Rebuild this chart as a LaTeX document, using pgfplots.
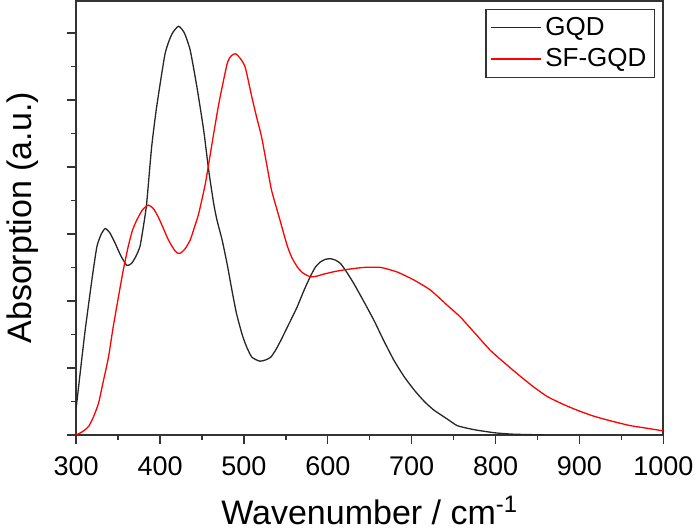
\documentclass[border=0pt]{standalone}
\usepackage{pgfplots}
\pgfplotsset{compat=1.18}
\usepackage{fontspec}
\setmainfont{Liberation Sans}
\begin{document}
\begin{tikzpicture}
\begin{axis}[
  scale only axis,
  width=293.5pt, height=217pt,
  xmin=300, xmax=1000, ymin=0, ymax=6.48,
  xtick={300,400,...,1000},
  minor x tick num=1,
  ytick={0,1,...,6},
  minor y tick num=1,
  yticklabels={},
  xtick pos=bottom, ytick pos=left,
  tick align=outside,
  major tick length=4.5pt, minor tick length=2.5pt,
  axis line style={line width=0.8pt, black!80},
  every tick/.style={line width=0.7pt, black!80},
  /pgf/number format/assume math mode=true,
  /pgf/number format/1000 sep={},
  ticklabel style={font=\fontsize{13.5}{15}\selectfont},
  xticklabel style={yshift=-3pt},
  xlabel={Wavenumber / cm\textsuperscript{-1}},
  ylabel={Absorption (a.u.)},
  label style={font=\fontsize{17}{20}\selectfont},
  xlabel style={yshift=-3pt},
  ylabel style={yshift=4pt},
  legend style={at={(0.986,0.982)}, anchor=north east, draw=black!80, line width=0.6pt,
    font=\fontsize{13}{15}\selectfont, inner sep=2pt, row sep=1pt},
  legend cell align=left,
  legend image code/.code={\draw[#1] (0pt,0pt) -- (25pt,0pt);},
]
\addplot[black!85, line width=0.65pt, smooth, tension=0.35] coordinates {
(300,0.40) (305,0.95) (310.7,1.56) (318.7,2.31) (324.7,2.81) (330,3.00) (334.6,3.08) (340,3.02)
(346.5,2.86) (353,2.68) (360.4,2.53) (366,2.56) (371,2.66) (376,2.81) (380,3.10) (384,3.45)
(390,4.30) (396,4.90) (406,5.69) (414,5.98) (422,6.10) (429,6.00) (436,5.74) (444,5.19)
(452,4.55) (458,3.95) (464,3.45) (468,3.20) (474,2.91) (480,2.55) (485.7,2.16) (491,1.82)
(497.6,1.51) (503,1.32) (509.5,1.16) (519,1.10) (526,1.12) (532,1.16) (538,1.27) (544,1.41)
(553,1.64) (563.5,1.91) (571,2.14) (579,2.36) (585,2.50) (591,2.58) (597,2.62) (603,2.63)
(609,2.61) (615,2.56) (622,2.44) (631,2.26) (643,1.99) (655,1.71) (667,1.40) (679,1.11)
(691,0.87) (703,0.67) (715,0.50) (726.5,0.37) (742,0.24) (754,0.14) (766,0.10) (778,0.07)
(800,0.03) (822,0.01) (858,0.00)
};
\addlegendentry{GQD}
\addplot[red, line width=0.65pt, smooth, tension=0.35] coordinates {
(300,0.00) (305,0.03) (310,0.07) (315,0.13) (320,0.25) (326.6,0.47) (332,0.78) (338.5,1.16) (344,1.60)
(350.4,2.06) (356,2.45) (362,2.81) (367,3.05) (372,3.20) (379,3.36) (386,3.43) (392,3.38)
(398,3.25) (404,3.08) (410,2.91) (416,2.78) (420,2.72) (424,2.71) (430,2.78) (436,2.91)
(441,3.10) (446,3.30) (454,3.75) (462,4.35) (470,4.94) (480,5.54) (485,5.66) (490,5.69)
(495,5.63) (501.5,5.49) (509.5,5.04) (515,4.75) (521,4.45) (527,4.05) (533,3.65) (542,3.25)
(548,2.98) (552,2.81) (557,2.65) (563.5,2.51) (570,2.42) (579,2.36) (587,2.37) (595,2.40)
(609,2.44) (623,2.47) (643,2.50) (663,2.50) (683,2.43) (703,2.31) (722.5,2.16) (742,1.94)
(758,1.76) (776,1.51) (794,1.26) (812,1.06) (830,0.87) (846,0.71) (862,0.57) (880,0.46)
(897,0.37) (917,0.28) (937,0.21) (960,0.14) (980,0.10) (1000,0.06)
};
\addlegendentry{SF-GQD}
\end{axis}
\end{tikzpicture}
\end{document}
